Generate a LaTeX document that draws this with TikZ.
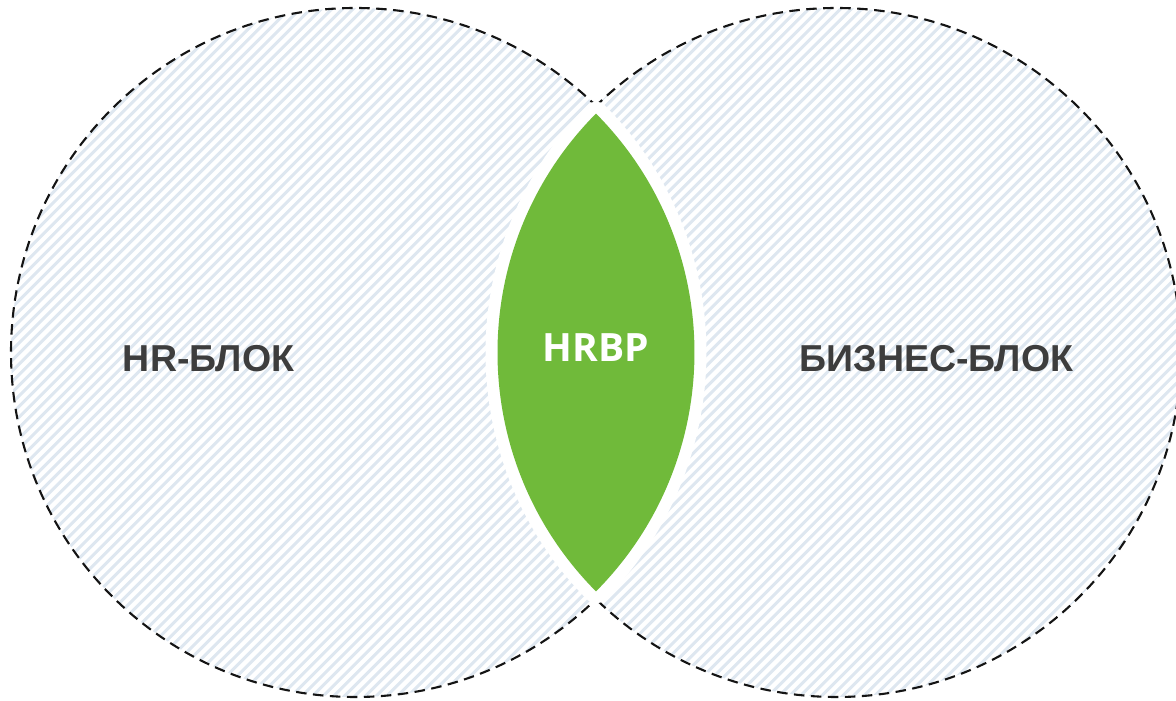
\documentclass[tikz,border=0pt]{standalone}
\usepackage{fontspec}
\setmainfont{Liberation Sans}
\newfontfamily\lensfont{Open Sans}
\usetikzlibrary{calc}
\definecolor{hatchblue}{HTML}{DEE7F0}
\definecolor{lensgreen}{HTML}{70BA3A}
\definecolor{labelgray}{HTML}{3D3D3D}
\definecolor{ringblack}{HTML}{141414}
\tikzset{
  hatch/.style={draw=hatchblue, line width=3},
  ring/.style={draw=ringblack, line width=2.1, dash pattern=on 10.5 off 6.5},
  blocklabel/.style={inner sep=0, text=labelgray, font=\fontsize{37.5}{40}\selectfont\bfseries},
  centerlabel/.style={inner sep=0, text=white, font=\lensfont\fontsize{39}{42}\selectfont\bfseries},
}
\begin{document}
\begin{tikzpicture}[x=1pt,y=1pt]
\useasboundingbox (0,0) rectangle (1176,701);
\clip (0,0) rectangle (1176,701);
\def\rad{344.5}
\def\lensrad{339}
\coordinate (L) at (355.5,348.5);
\coordinate (R) at (836.5,348.5);
% hatched fill of both circles
\begin{scope}
  \clip (L) circle (\rad) (R) circle (\rad);
  \foreach \i in {0,...,180}
    \draw[hatch] ({-720+\i*10.6},-10) -- ++(721,721);
\end{scope}
% dashed outlines
\draw[ring] (L) circle (\rad);
\draw[ring] (R) circle (\rad);
% central lens
\pgfmathsetmacro\ang{acos(240.5/\lensrad)}
\coordinate (top) at ($(L)+(\ang:\lensrad)$);
\def\lenspath{(top) arc[start angle=180-\ang, end angle=180+\ang, radius=\lensrad]
  arc[start angle=-\ang, end angle=\ang, radius=\lensrad] -- cycle}
\draw[white, line width=24, line join=round] \lenspath;
\fill[lensgreen] \lenspath;
% labels
\node[blocklabel] (hr) at (208.5,342.5) {HR-БЛОК};
\node[blocklabel] (biz) at (936.5,342.5) {БИЗНЕС-БЛОК};
\node[centerlabel] (hrbp) at (596,353.5) {HRBP};
\end{tikzpicture}
\end{document}
